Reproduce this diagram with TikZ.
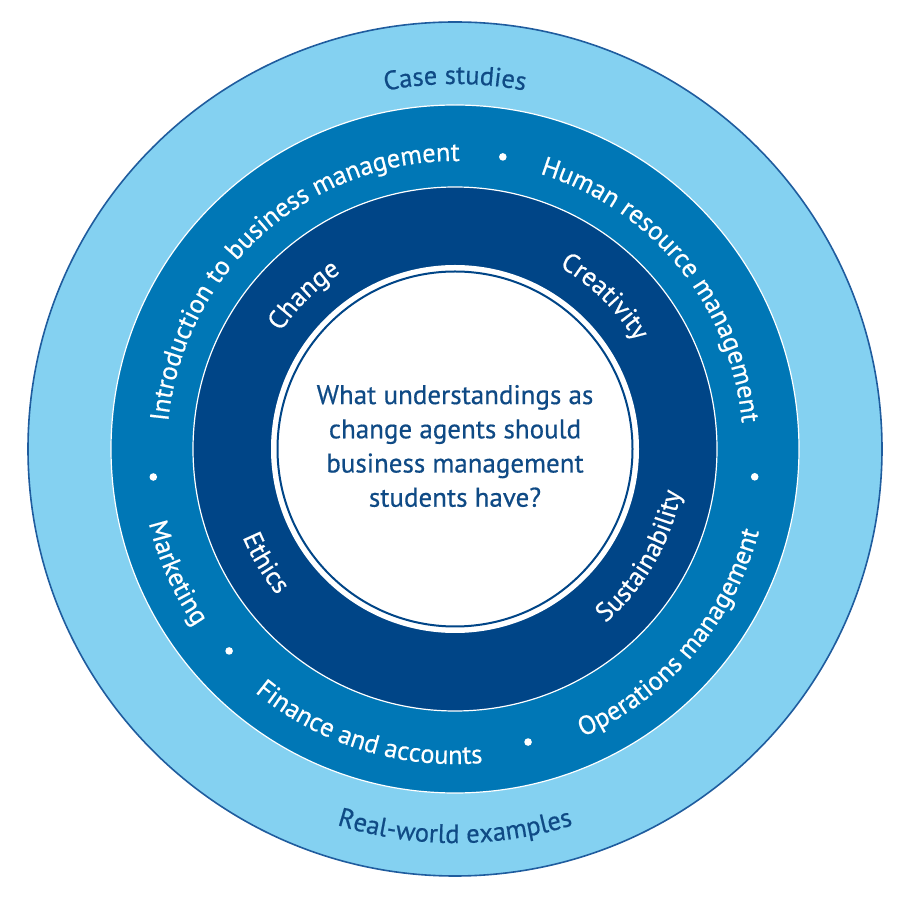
\documentclass[tikz,border=0pt]{standalone}
\usepackage{fontspec}
\newfontfamily\pts[FakeBold=0.5]{PT Sans}
\usetikzlibrary{calc,decorations.text}
\definecolor{lightring}{HTML}{84D1F1}
\definecolor{midring}{HTML}{0077B6}
\definecolor{darkring}{HTML}{004587}
\definecolor{outline}{HTML}{1F5C9E}
\definecolor{txtblue}{HTML}{0F4A85}
\newcommand\rfont{\pts\fontsize{26.5}{30}\selectfont}
\newcommand\qfont{\pts\fontsize{27}{34.2}\selectfont}
% clockwise (top) text: radius, centre angle, half span, colour, text
\newcommand\cwtext[5]{%
  \path[decorate,decoration={text along path,text align=center,text color=#4,text={|\rfont|#5}}]
    ($(O)+({#2+#3}:#1)$) arc[start angle={#2+#3}, end angle={#2-#3}, radius=#1];}
% counter-clockwise (bottom) text
\newcommand\ccwtext[5]{%
  \path[decorate,decoration={text along path,text align=center,text color=#4,text={|\rfont|#5}}]
    ($(O)+({#2-#3}:#1)$) arc[start angle={#2-#3}, end angle={#2+#3}, radius=#1];}
\begin{document}
\begin{tikzpicture}[x=1pt,y=1pt,
  sep/.style={draw=white,line width=1.2pt},
  bullet/.style={fill=white}]
\useasboundingbox (0,0) rectangle (900,900);
\coordinate (O) at (455,451);
% rings
\fill[lightring] (O) circle[radius=427];
\draw[outline,line width=1.6pt] (O) circle[radius=427];
\fill[midring] (O) circle[radius=344];
\draw[sep] (O) circle[radius=344];
\fill[darkring] (O) circle[radius=262];
\draw[sep] (O) circle[radius=262];
\fill[white] (O) circle[radius=184];
\draw[darkring,line width=2pt] (O) circle[radius=177.5];
% centre question
\node[align=center,text=txtblue,font=\qfont,inner sep=0pt] (q) at ($(O)+(0,3)$)
  {What understandings as\\change agents should\\business management\\students have?};
% outer ring
\cwtext{365}{90}{60}{txtblue}{Case studies}
\ccwtext{394}{270}{60}{txtblue}{Real-world examples}
% middle ring
\cwtext{288}{131.8}{70}{white}{Introduction to business management}
\cwtext{288}{39}{70}{white}{Human resource management}
\ccwtext{315}{204}{45}{white}{Marketing}
\ccwtext{315}{252.8}{60}{white}{Finance and accounts}
\ccwtext{315}{319.4}{60}{white}{Operations management}
% bullets
\fill[bullet] ($(O)+(80.7:296)$) circle[radius=3.8];
\fill[bullet] ($(O)+(185.3:303)$) circle[radius=3.8];
\fill[bullet] ($(O)+(-5.3:301)$) circle[radius=3.8];
\fill[bullet] ($(O)+(221.8:303)$) circle[radius=3.8];
\fill[bullet] ($(O)+(-76:302)$) circle[radius=3.8];
% dark ring
\cwtext{210}{134.5}{45}{white}{Change}
\cwtext{210}{45.5}{45}{white}{Creativity}
\ccwtext{230}{211}{45}{white}{Ethics}
\ccwtext{230}{330}{50}{white}{Sustainability}
\end{tikzpicture}
\end{document}
